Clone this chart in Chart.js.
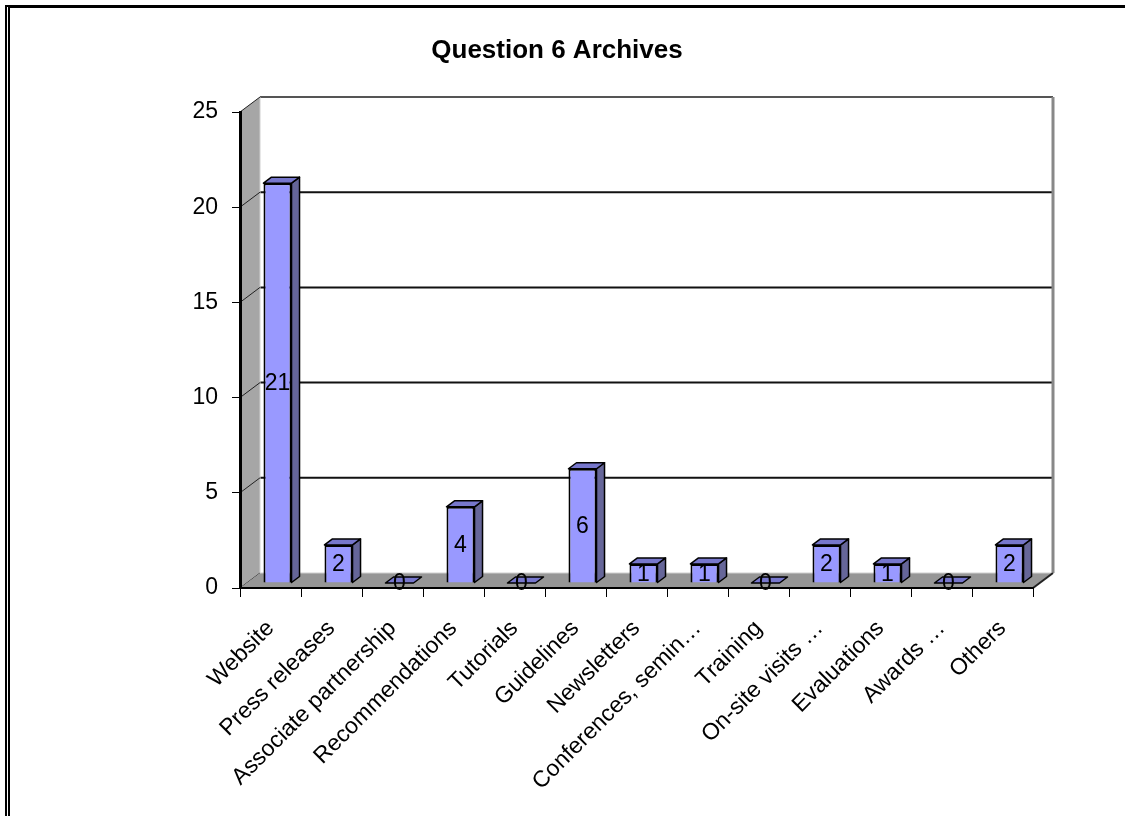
<!DOCTYPE html>
<html>
<head>
<meta charset="utf-8">
<title>Question 6 Archives</title>
<script src="https://cdn.jsdelivr.net/npm/chart.js@4/dist/chart.umd.min.js"></script>
<style>
  html, body { margin: 0; padding: 0; background: #fff; }
  .wrap { position: relative; width: 1125px; height: 816px; }
  /* the page frame from the scanned document */
  .frame { position: absolute; left: 5px; top: 5px; right: 0; bottom: -10px;
    border-top: 3px solid #000; border-left: 5px double #000; pointer-events: none; }
</style>
</head>
<body>
<div class="wrap">
  <canvas id="myChart"></canvas>
  <div class="frame"></div>
</div>
<script>
//Data
const categories = ["Website", "Press releases", "Associate partnership", "Recommendations", "Tutorials",
  "Guidelines", "Newsletters", "Conferences, semin\u2026", "Training", "On-site visits \u2026",
  "Evaluations", "Awards \u2026", "Others"];
const counts = [21, 2, 0, 4, 0, 6, 1, 1, 0, 2, 1, 0, 2];
const yMin = 0;
const yMax = 25;
const yStep = 5;

const FONT = "'Liberation Sans', Arial, sans-serif";

//fake 3D: depth of the walls, where the bar front sits in that depth, and how deep a bar is
const wallDX = 20, wallDY = -15;
const barDX = 7, barDY = -5;
const barDepthX = 8, barDepthY = -6;

function line(ctx, x1, y1, x2, y2, color, width) {
  ctx.beginPath();
  ctx.moveTo(x1, y1);
  ctx.lineTo(x2, y2);
  ctx.strokeStyle = color;
  ctx.lineWidth = width;
  ctx.stroke();
}

function poly(ctx, pts, fill, stroke, width) {
  ctx.beginPath();
  ctx.moveTo(pts[0][0], pts[0][1]);
  for (let i = 1; i < pts.length; i++) ctx.lineTo(pts[i][0], pts[i][1]);
  ctx.closePath();
  if (fill) { ctx.fillStyle = fill; ctx.fill(); }
  if (stroke) { ctx.strokeStyle = stroke; ctx.lineWidth = width; ctx.stroke(); }
}

//Walls and floor go under everything, so they are drawn before the scales
const walls3d = {
  id: "walls3d",
  beforeDraw(chart) {
    const { ctx, chartArea: a, scales } = chart;
    const y = scales.y;
    ctx.save();
    //back wall
    ctx.fillStyle = "#fff";
    ctx.fillRect(a.left + wallDX, a.top + wallDY, a.width, a.height);
    for (const t of y.ticks) {
      if (t.value === yMin || t.value === yMax) continue;
      const py = y.getPixelForValue(t.value) + wallDY;
      line(ctx, a.left + wallDX, py, a.right + wallDX, py, "#111", 2);
    }
    line(ctx, a.left + wallDX, a.top + wallDY, a.right + wallDX, a.top + wallDY, "#555", 2);
    line(ctx, a.right + wallDX, a.top + wallDY, a.right + wallDX, a.bottom + wallDY, "#888", 3);
    //left wall
    poly(ctx, [[a.left, a.top], [a.left + wallDX, a.top + wallDY], [a.left + wallDX, a.bottom + wallDY], [a.left, a.bottom]], "#a6a6a6");
    line(ctx, a.left + wallDX, a.top + wallDY, a.left + wallDX, a.bottom + wallDY, "#cfcfcf", 1);
    for (const t of y.ticks) {
      const py = y.getPixelForValue(t.value);
      line(ctx, a.left, py, a.left + wallDX, py + wallDY, "#222", 1);
    }
    //floor
    poly(ctx, [[a.left, a.bottom], [a.right, a.bottom], [a.right + wallDX, a.bottom + wallDY], [a.left + wallDX, a.bottom + wallDY]], "#969696");
    line(ctx, a.left + wallDX, a.bottom + wallDY, a.right + wallDX, a.bottom + wallDY, "#cfcfcf", 1);
    line(ctx, a.right, a.bottom, a.right + wallDX, a.bottom + wallDY, "#222", 2);
    ctx.restore();
  },
  beforeDatasetsDraw(chart) {
    //push the bar fronts back into the box a bit
    chart.ctx.save();
    chart.ctx.translate(barDX, barDY);
  },
  afterDatasetsDraw(chart) {
    const ctx = chart.ctx;
    ctx.restore();
    const bars = chart.getDatasetMeta(0).data;
    ctx.save();
    bars.forEach((bar, i) => {
      const p = bar.getProps(["x", "y", "base", "width"], true);
      const left = p.x - p.width / 2 + barDX;
      const right = p.x + p.width / 2 + barDX;
      const top = p.y + barDY;
      const bottom = p.base + barDY;
      ctx.lineJoin = "round";
      //side face
      if (bottom - top > 0.5) {
        poly(ctx, [[right, top], [right + barDepthX, top + barDepthY], [right + barDepthX, bottom + barDepthY], [right, bottom]], "#666699", "#000", 1.5);
      }
      //top face
      poly(ctx, [[left, top], [left + barDepthX, top + barDepthY], [right + barDepthX, top + barDepthY], [right, top]], "#7777cc", "#000", 1.5);
      //value label
      ctx.fillStyle = "#000";
      ctx.font = "23px " + FONT;
      ctx.textAlign = "center";
      ctx.textBaseline = "middle";
      ctx.fillText(String(counts[i]), (left + right) / 2, (top + bottom) / 2 + 1);
    });
    ctx.restore();
  },
};

Chart.defaults.font.family = FONT;
Chart.defaults.color = "#000";

new Chart("myChart", {
  type: "bar",
  data: {
    labels: categories,
    datasets: [
      {
        data: counts,
        backgroundColor: "#9999ff",
        borderColor: "#000",
        borderWidth: 2,
        barPercentage: 0.46,
        categoryPercentage: 1,
      },
    ],
  },
  options: {
    responsive: true,
    maintainAspectRatio: false,
    animation: false,
    layout: { padding: { left: 0, right: 11, top: 0, bottom: 0 } },
    plugins: {
      legend: { display: false },
      tooltip: { enabled: false },
      title: {
        display: true,
        text: "Question 6 Archives",
        color: "#000",
        font: { size: 26, weight: "bold", family: FONT },
        padding: { top: 35, bottom: 45.8 },
      },
    },
    scales: {
      x: {
        afterFit: (s) => { s.height = 228; },
        grid: { drawOnChartArea: false, tickLength: 9, tickColor: "#000", tickWidth: 1 },
        border: { color: "#000", width: 2 },
        ticks: {
          autoSkip: false,
          minRotation: 45,
          maxRotation: 45,
          padding: 18,
          font: { size: 23 },
        },
      },
      y: {
        min: yMin,
        max: yMax,
        afterFit: (s) => { s.width = 240; },
        grid: { drawOnChartArea: false, tickLength: 8, tickColor: "#000", tickWidth: 1 },
        border: { color: "#000", width: 3 },
        ticks: { stepSize: yStep, padding: 14, font: { size: 23 } },
      },
      //empty right axis, only keeps the room on the right of the box
      spacer: {
        type: "linear",
        position: "right",
        afterFit: (s) => { s.width = 81; },
        grid: { display: false },
        border: { display: false },
        ticks: { display: false },
      },
    },
  },
  plugins: [walls3d],
});
</script>
</body>
</html>
